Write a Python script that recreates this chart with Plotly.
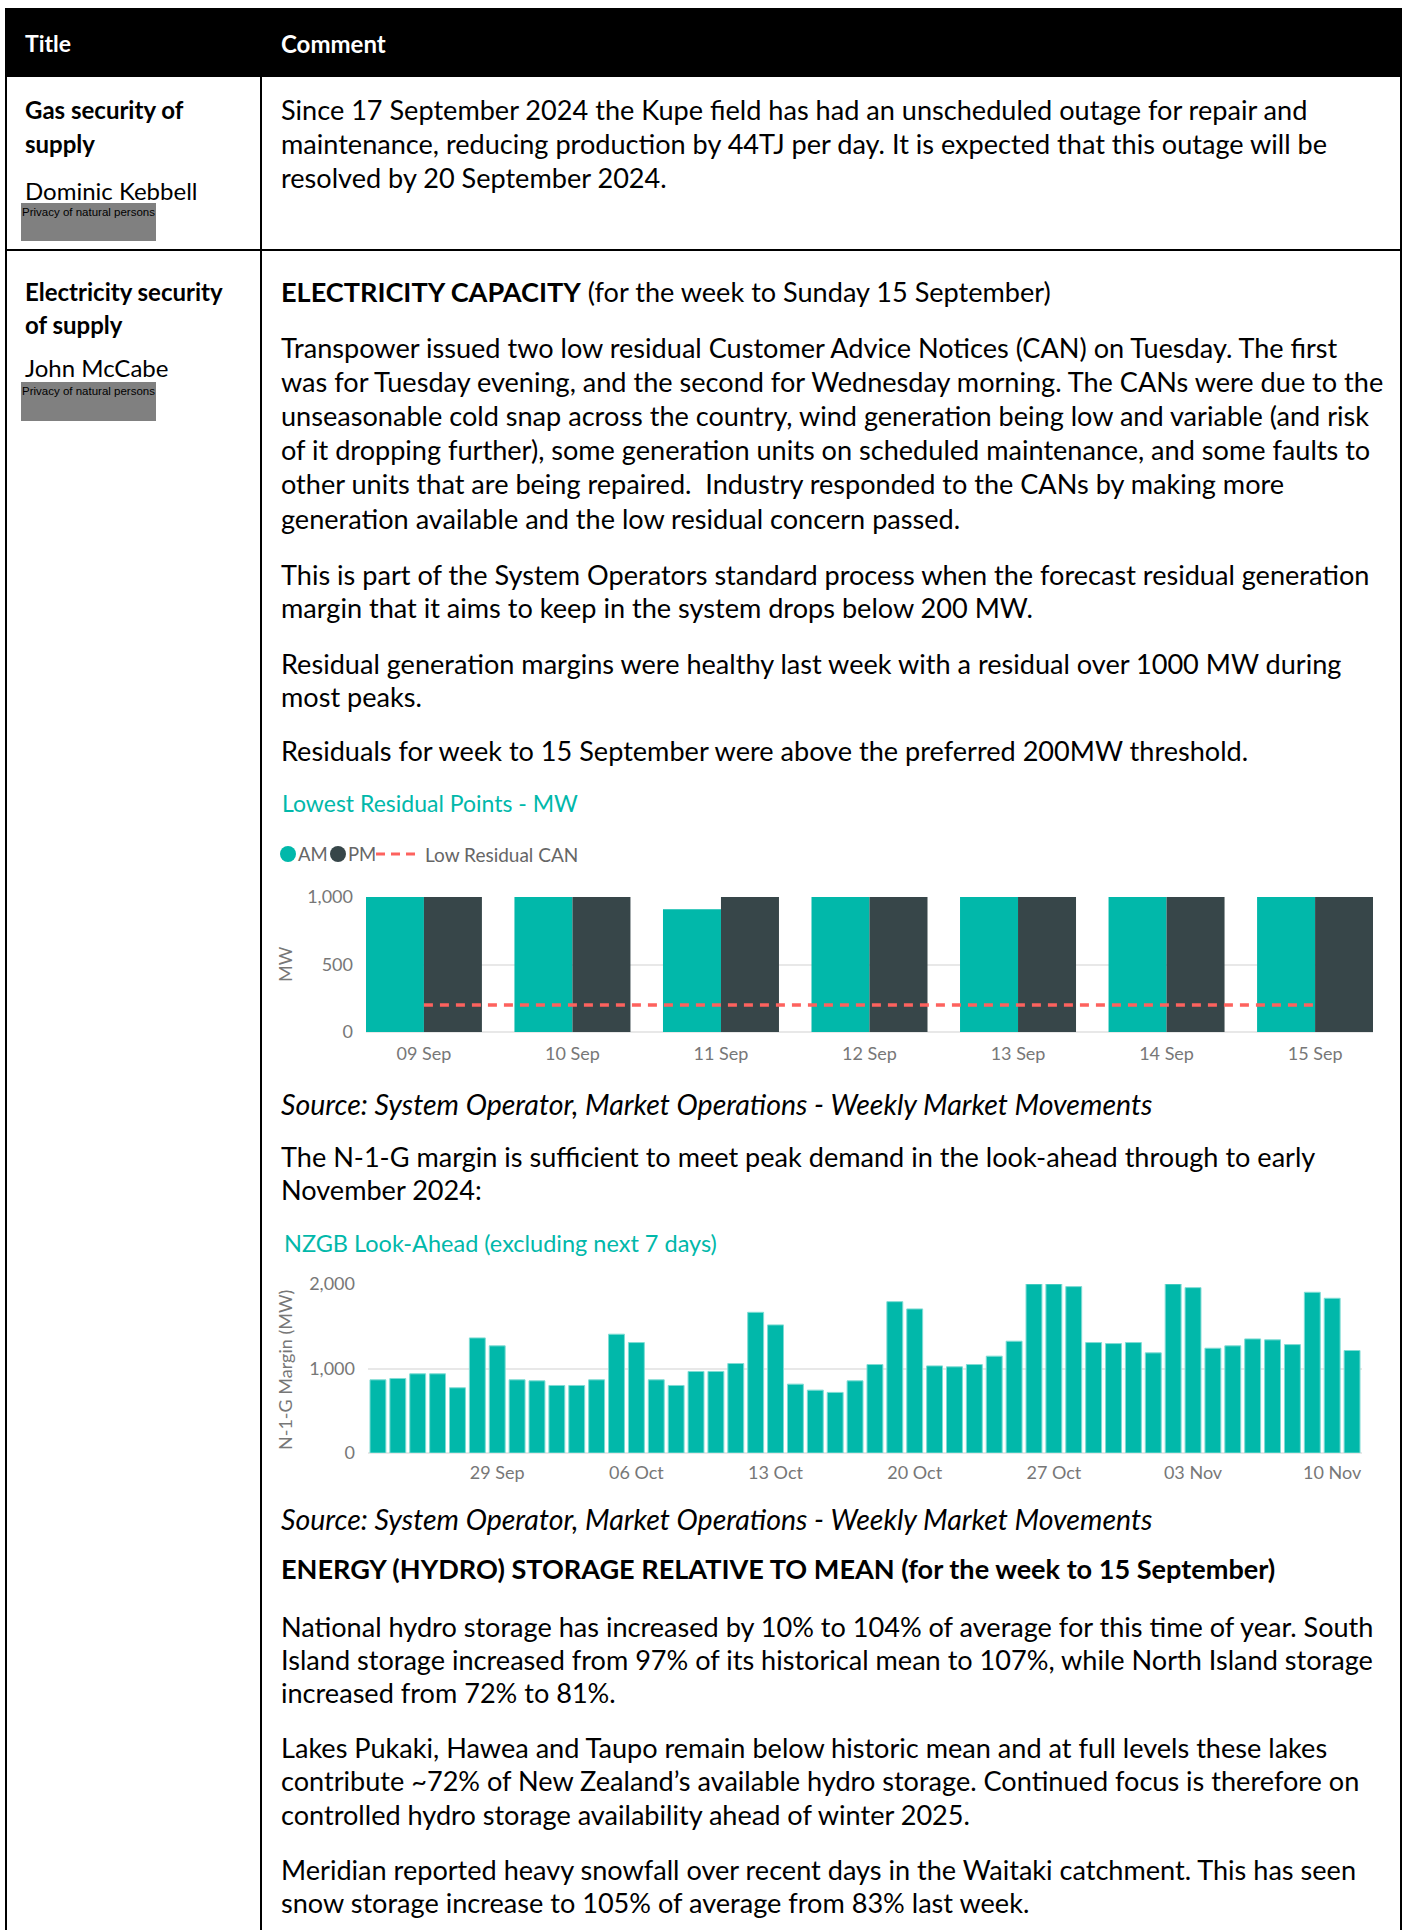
import plotly.graph_objects as go

W, H = 1407, 1930

# ---------------- data ----------------
res_days = ["09 Sep", "10 Sep", "11 Sep", "12 Sep", "13 Sep", "14 Sep", "15 Sep"]
res_am = [1000, 1000, 910, 1000, 1000, 1000, 1000]
res_pm = [1000, 1000, 1000, 1000, 1000, 1000, 1000]
res_can = [200, 200, 200, 200, 200, 200, 200]
res_yticks = [0, 500, 1000]

look_dates = [
    "2024-09-23", "2024-09-24", "2024-09-25", "2024-09-26", "2024-09-27", "2024-09-28", "2024-09-29",
    "2024-09-30", "2024-10-01", "2024-10-02", "2024-10-03", "2024-10-04", "2024-10-05", "2024-10-06",
    "2024-10-07", "2024-10-08", "2024-10-09", "2024-10-10", "2024-10-11", "2024-10-12", "2024-10-13",
    "2024-10-14", "2024-10-15", "2024-10-16", "2024-10-17", "2024-10-18", "2024-10-19", "2024-10-20",
    "2024-10-21", "2024-10-22", "2024-10-23", "2024-10-24", "2024-10-25", "2024-10-26", "2024-10-27",
    "2024-10-28", "2024-10-29", "2024-10-30", "2024-10-31", "2024-11-01", "2024-11-02", "2024-11-03",
    "2024-11-04", "2024-11-05", "2024-11-06", "2024-11-07", "2024-11-08", "2024-11-09", "2024-11-10",
    "2024-11-11",
]
look_margin = [
    866, 882, 937, 937, 772, 1362, 1268, 866, 854, 799,
    799, 866, 1406, 1307, 866, 799, 965, 965, 1059, 1665,
    1516, 815, 744, 717, 854, 1047, 1791, 1705, 1031, 1020,
    1047, 1146, 1323, 2000, 2000, 1969, 1307, 1295, 1307, 1185,
    2000, 1957, 1240, 1268, 1350, 1339, 1283, 1902, 1831, 1213,
]
look_tickvals = ["2024-09-29", "2024-10-06", "2024-10-13", "2024-10-20", "2024-10-27", "2024-11-03", "2024-11-10"]
look_ticktext = ["29 Sep", "06 Oct", "13 Oct", "20 Oct", "27 Oct", "03 Nov", "10 Nov"]
look_yticks = [0, 1000, 2000]

# ---------------- text ----------------
header_cols = ["Title", "Comment"]
gas_title = ["<b>Gas security of</b>", "<b>supply</b>"]
gas_author = "Dominic Kebbell"
gas_comment = [
    "Since 17 September 2024 the Kupe field has had an unscheduled outage for repair and",
    "maintenance, reducing production by 44TJ per day. It is expected that this outage will be",
    "resolved by 20 September 2024.",
]
elec_title = ["<b>Electricity security</b>", "<b>of supply</b>"]
elec_author = "John McCabe"
privacy = "Privacy of natural persons"

para_cap = ["<b>ELECTRICITY CAPACITY</b> (for the week to Sunday 15 September)"]
para_can = [
    "Transpower issued two low residual Customer Advice Notices (CAN) on Tuesday. The first",
    "was for Tuesday evening, and the second for Wednesday morning. The CANs were due to the",
    "unseasonable cold snap across the country, wind generation being low and variable (and risk",
    "of it dropping further), some generation units on scheduled maintenance, and some faults to",
    "other units that are being repaired.  Industry responded to the CANs by making more",
    "generation available and the low residual concern passed.",
]
para_std = [
    "This is part of the System Operators standard process when the forecast residual generation",
    "margin that it aims to keep in the system drops below 200 MW.",
]
para_res = [
    "Residual generation margins were healthy last week with a residual over 1000 MW during",
    "most peaks.",
]
para_res2 = ["Residuals for week to 15 September were above the preferred 200MW threshold."]
source_txt = "<i>Source: System Operator, Market Operations - Weekly Market Movements</i>"
para_n1g = [
    "The N-1-G margin is sufficient to meet peak demand in the look-ahead through to early",
    "November 2024:",
]
para_energy = ["<b>ENERGY (HYDRO) STORAGE RELATIVE TO MEAN (for the week to 15 September)</b>"]
para_nat = [
    "National hydro storage has increased by 10% to 104% of average for this time of year. South",
    "Island storage increased from 97% of its historical mean to 107%, while North Island storage",
    "increased from 72% to 81%.",
]
para_lakes = [
    "Lakes Pukaki, Hawea and Taupo remain below historic mean and at full levels these lakes",
    "contribute ~72% of New Zealand\u2019s available hydro storage. Continued focus is therefore on",
    "controlled hydro storage availability ahead of winter 2025.",
]
para_snow = [
    "Meridian reported heavy snowfall over recent days in the Waitaki catchment. This has seen",
    "snow storage increase to 105% of average from 83% last week.",
]
chart1_title = "Lowest Residual Points - MW"
chart2_title = "NZGB Look-Ahead (excluding next 7 days)"
legend_items = ["AM", "PM", "Low Residual CAN"]

# ---------------- styles ----------------
TEAL = "#01B8AA"
DARK = "#374649"
RED = "#FD625E"
GRID = "#E8E8E8"
AXIS_TXT = "#777777"
BODY_FONT = "Lato"
BODY_SIZE = 27.1
SOURCE_SIZE = 28.5
LEFT_SIZE = 24
CHART_FONT = "Lato"


def px(x):
    return x / W


def py(y):
    return 1 - y / H


annotations = []
shapes = []


def ann(x, y, text, size=BODY_SIZE, color="black", family=BODY_FONT, xanchor="left",
        yanchor="middle", textangle=0):
    annotations.append(dict(
        x=px(x), y=py(y), xref="paper", yref="paper", text=text, showarrow=False,
        xanchor=xanchor, yanchor=yanchor, textangle=textangle,
        font=dict(family=family, size=size, color=color), borderpad=0,
    ))


def lines(x, y0, items, step=33.6, **kw):
    for i, t in enumerate(items):
        ann(x, y0 + i * step, t, **kw)


def hline(x0, x1, y, w=2, color="black"):
    shapes.append(dict(type="line", xref="paper", yref="paper", x0=px(x0), x1=px(x1),
                       y0=py(y), y1=py(y), line=dict(color=color, width=w)))


def vline(x, y0, y1, w=2, color="black"):
    shapes.append(dict(type="line", xref="paper", yref="paper", x0=px(x), x1=px(x),
                       y0=py(y0), y1=py(y1), line=dict(color=color, width=w)))


def rect(x0, y0, x1, y1, fill, lw=0):
    shapes.append(dict(type="rect", xref="paper", yref="paper", x0=px(x0), x1=px(x1),
                       y0=py(y1), y1=py(y0), fillcolor=fill, line=dict(width=lw), layer="below"))


def circle(cx, cy, r, fill):
    shapes.append(dict(type="circle", xref="paper", yref="paper", x0=px(cx - r), x1=px(cx + r),
                       y0=py(cy + r), y1=py(cy - r), fillcolor=fill, line=dict(width=0)))


# ---------------- table frame ----------------
LEFT, RIGHT, DIV = 6, 1401, 261
rect(LEFT - 1, 8, RIGHT + 1, 77, "black")
vline(LEFT, 8, H)
vline(RIGHT, 8, H)
vline(DIV, 77, H)
hline(LEFT, RIGHT, 250)

ann(24, 43, "<b>%s</b>" % header_cols[0], size=23, color="white")
ann(280, 43, "<b>%s</b>" % header_cols[1], size=24, color="white")

# gas row
lines(24, 110, gas_title, step=33.5, size=LEFT_SIZE)
ann(24, 190, gas_author, size=LEFT_SIZE)
rect(21, 203, 156, 241, "#808080")
ann(21, 212, privacy, size=11.5, family="Liberation Sans")
lines(280, 110, gas_comment)

# electricity row
lines(24, 291, elec_title, step=33, size=LEFT_SIZE)
ann(24, 368, elec_author, size=LEFT_SIZE)
rect(21, 382, 156, 421, "#808080")
ann(21, 391, privacy, size=11.5, family="Liberation Sans")

X0 = 280
lines(X0, 291, para_cap)
lines(X0, 347, para_can, step=34.2)
lines(X0, 574, para_std)
lines(X0, 663, para_res)
lines(X0, 751, para_res2)
ann(X0 + 1, 803, chart1_title, size=23, color=TEAL, family=CHART_FONT)
lines(X0, 1104, [source_txt], size=SOURCE_SIZE)
lines(X0, 1156, para_n1g)
ann(X0 + 3, 1243, chart2_title, size=23.5, color=TEAL, family=CHART_FONT)
lines(X0, 1519, [source_txt], size=SOURCE_SIZE)
lines(X0, 1568, para_energy)
lines(X0, 1626, para_nat, step=33)
lines(X0, 1747, para_lakes, step=33.5)
lines(X0, 1869, para_snow, step=33)

# chart 1 legend
circle(288, 854, 8, TEAL)
ann(297, 854, legend_items[0], size=18.5, color="#666666", family=CHART_FONT)
circle(338, 854, 8, DARK)
ann(347, 854, legend_items[1], size=18.5, color="#666666", family=CHART_FONT)
shapes.append(dict(type="line", xref="paper", yref="paper", x0=px(376), x1=px(421), y0=py(854), y1=py(854),
                   line=dict(color=RED, width=3, dash="9px,6px")))
ann(424, 854, legend_items[2], size=19, color="#666666", family=CHART_FONT)

# axis titles
ann(285, 964, "MW", size=18, color=AXIS_TXT, family=CHART_FONT, xanchor="center", textangle=-90)
ann(285, 1370, "N-1-G Margin (MW)", size=18, color=AXIS_TXT, family=CHART_FONT, xanchor="center",
    textangle=-90)

# ---------------- charts ----------------
fig = go.Figure()
fig.add_trace(go.Bar(x=res_days, y=res_am, name="AM", marker=dict(color=TEAL, line=dict(width=0)),
                     xaxis="x", yaxis="y"))
fig.add_trace(go.Bar(x=res_days, y=res_pm, name="PM", marker=dict(color=DARK, line=dict(width=0)),
                     xaxis="x", yaxis="y"))
fig.add_trace(go.Scatter(x=res_days, y=res_can, mode="lines", name="Low Residual CAN",
                         line=dict(color=RED, width=3.5, dash="9px,7px"), xaxis="x", yaxis="y"))
fig.add_trace(go.Bar(x=look_dates, y=look_margin, name="Margin", width=0.8 * 86400000,
                     marker=dict(color=TEAL, line=dict(width=1, color="#7FDCD4")), xaxis="x2", yaxis="y2"))

tickfont = dict(family=CHART_FONT, size=18, color=AXIS_TXT)

fig.update_layout(
    width=W, height=H, margin=dict(l=0, r=0, t=0, b=0, pad=0, autoexpand=False),
    paper_bgcolor="white", plot_bgcolor="white", showlegend=False,
    barmode="group", bargap=0.219, bargroupgap=0,
    annotations=annotations, shapes=shapes,
    xaxis=dict(domain=[px(366), px(1373)], range=[-0.39, 6.39], type="category",
               showgrid=False, showline=False, zeroline=False, ticks="", automargin=False,
               tickfont=tickfont, ticklabelstandoff=9, anchor="y"),
    yaxis=dict(domain=[py(1032), py(897)], range=[0, 1000], tickvals=res_yticks, tickformat=",",
               showgrid=True, gridcolor=GRID, gridwidth=1.5, zeroline=True, zerolinecolor=GRID,
               zerolinewidth=1.5, showline=False, ticks="", tickfont=tickfont, automargin=False,
               ticklabelstandoff=12, anchor="x"),
    xaxis2=dict(domain=[px(368), px(1362)], range=["2024-09-22 12:00", "2024-11-11 12:00"], type="date",
                tickvals=look_tickvals, ticktext=look_ticktext, showgrid=False, showline=False,
                zeroline=False, ticks="", tickfont=tickfont, ticklabelstandoff=7, automargin=False,
                anchor="y2"),
    yaxis2=dict(domain=[py(1453), py(1284)], range=[0, 2000], tickvals=look_yticks, tickformat=",",
                showgrid=True, gridcolor=GRID, gridwidth=1.5, zeroline=True, zerolinecolor=GRID,
                zerolinewidth=1.5, showline=False, ticks="", tickfont=tickfont, automargin=False,
                ticklabelstandoff=12, anchor="x2"),
)

fig.write_html("out.html", config={"displayModeBar": False},
               post_script="document.body.style.margin='0';document.body.style.overflow='hidden';")
